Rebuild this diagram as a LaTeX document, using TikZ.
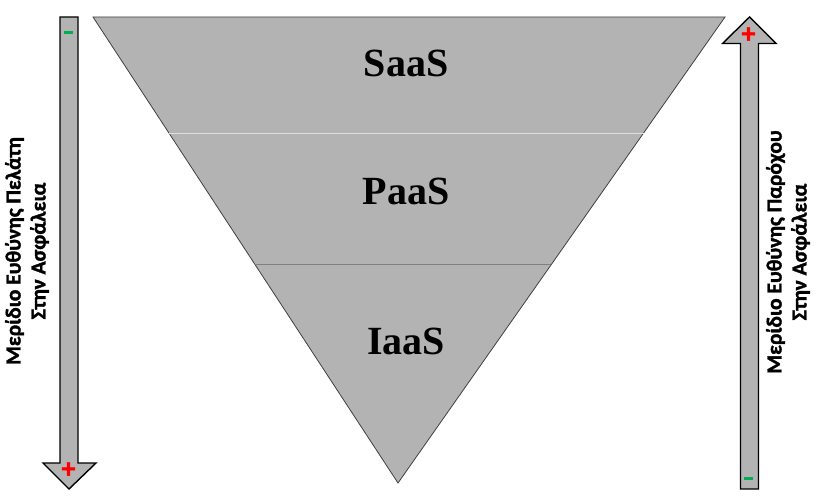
\documentclass[tikz,border=0pt]{standalone}
\usepackage{fontspec}
\setmainfont{Carlito}[BoldFont={Carlito Bold}]
\newfontfamily\sidefont{Carlito Bold}[FakeBold=1.6]
\newfontfamily\layerfont{Liberation Serif}
\usetikzlibrary{positioning}
\definecolor{layerGray}{RGB}{179,179,179}
\definecolor{signRed}{RGB}{255,0,0}
\definecolor{signGreen}{RGB}{0,176,80}
\tikzset{
  layer/.style={
    draw=black!75, fill=layerGray, line width=0.8pt, line join=miter
  },
  layerlabel/.style={
    font=\layerfont\fontsize{40}{44}\selectfont\bfseries, text=black,
    inner sep=0pt
  },
  bigarrow/.style={
    draw=black, fill=layerGray, line width=1.4pt, line join=miter
  },
  sidelabel/.style={
    rotate=90, align=center, inner sep=0pt,
    font=\sidefont\fontsize{21.5}{25}\selectfont
  },
  plussign/.style={
    font=\sidefont\fontsize{28}{28}\selectfont, text=signRed, inner sep=0pt
  },
  minussign/.style={
    fill=signGreen, minimum width=9pt, minimum height=3pt, inner sep=0pt
  }
}
\begin{document}
\begin{tikzpicture}[x=1pt, y=-1pt]
  \useasboundingbox (0,0) rectangle (818,500);

  % inverted triangle
  \coordinate (tl) at (93,17);
  \coordinate (tr) at (725,17);
  \coordinate (apex) at (398,483);
  \draw[layer] (tl) -- (tr) -- (apex) -- cycle;
  \path (tl) -- (apex) coordinate[pos=0.249] (l1) coordinate[pos=0.532] (l2);
  \path (tr) -- (apex) coordinate[pos=0.249] (r1) coordinate[pos=0.532] (r2);
  \draw[white!75!gray, line width=1pt] (l1) -- (r1);
  \draw[gray, line width=1pt] (l2) -- (r2);

  \node[layerlabel] (saas) at (406,63) {SaaS};
  \node[layerlabel] (paas) at (406,191) {PaaS};
  \node[layerlabel] (iaas) at (406,341) {IaaS};

  % left arrow (down)
  \draw[bigarrow] (60,17) -- (78,17) -- (78,463) -- (96,463) -- (69,489)
    -- (43,463) -- (60,463) -- cycle;
  \node[minussign] (lminus) at (68.5,33) {};
  \node[plussign] (lplus) at (68.5,470) {+};
  \node[sidelabel] (lclient) at (27,251)
    {Μερίδιο Ευθύνης Πελάτη\\Στην Ασφάλεια};

  % right arrow (up)
  \draw[bigarrow] (740.5,489) -- (758.5,489) -- (758.5,43.5) -- (776,43.5)
    -- (749.5,17) -- (722.5,43.5) -- (740.5,43.5) -- cycle;
  \node[plussign] (rplus) at (748.5,35) {+};
  \node[minussign] (rminus) at (748.5,478) {};
  \node[sidelabel] (rprovider) at (788,252)
    {Μερίδιο Ευθύνης Παρόχου\\Στην Ασφάλεια};
\end{tikzpicture}
\end{document}
